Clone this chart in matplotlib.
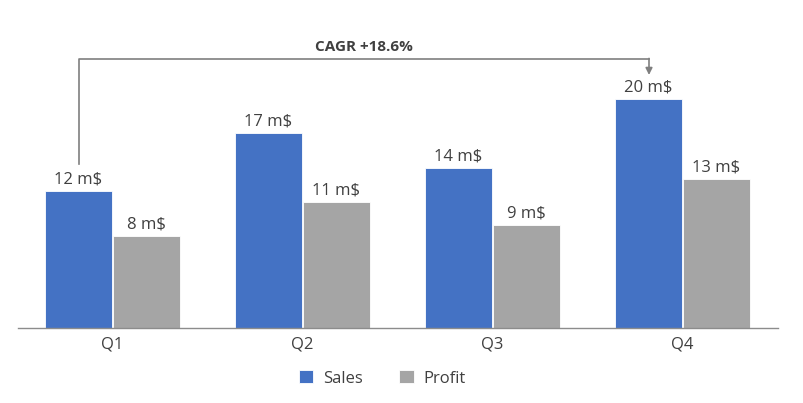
import matplotlib
matplotlib.use("Agg")
import matplotlib.pyplot as plt
import numpy as np

categories = ["Q1", "Q2", "Q3", "Q4"]
sales = [12, 17, 14, 20]
profit = [8, 11, 9, 13]
cagr_label = "CAGR +18.6%"

plt.rcParams['font.family'] = ['Open Sans', 'DejaVu Sans']

W, H = 804, 403
fig = plt.figure(figsize=(W/100, H/100), dpi=100)
ax_left, ax_right = 17.5, 777.5
ax_bottom_px = H - 328
ymax = 25
px_per_unit = 11.45
ax_h = ymax * px_per_unit
ax = fig.add_axes([ax_left/W, ax_bottom_px/H, (ax_right-ax_left)/W, ax_h/H])

x = np.arange(len(categories))
bw = 67/190
blue = '#4472C4'
gray = '#A5A5A5'
txt = '#404040'

b1 = ax.bar(x - bw/2 - 0.0025, sales, bw, color=blue, label='Sales', edgecolor='white', linewidth=0.6)
b2 = ax.bar(x + bw/2 + 0.0025, profit, bw, color=gray, label='Profit', edgecolor='white', linewidth=0.6)

for rect, v in zip(b1, sales):
    ax.annotate(f"{v} m$", (rect.get_x() + rect.get_width()/2, v), xytext=(0, 2.5),
                textcoords='offset points', ha='center', va='bottom', fontsize=12, color=txt)
for rect, v in zip(b2, profit):
    ax.annotate(f"{v} m$", (rect.get_x() + rect.get_width()/2, v), xytext=(0, 2.5),
                textcoords='offset points', ha='center', va='bottom', fontsize=12, color=txt)

ax.set_xlim(-0.5, len(categories) - 0.5)
ax.set_ylim(0, ymax)
ax.set_xticks(x)
ax.set_xticklabels(categories, fontsize=12, color=txt)
ax.tick_params(axis='x', length=0, pad=6)
ax.set_yticks([])
for s in ['top', 'right', 'left']:
    ax.spines[s].set_visible(False)
ax.spines['bottom'].set_color('#8c8c8c')
ax.spines['bottom'].set_linewidth(1)

# CAGR bracket
x0 = x[0] - bw/2
x1 = x[-1] - bw/2
ytop = (328 - 59) / px_per_unit
ystart = sales[0] + 2.35
yend = sales[-1] + 2.1
lc = '#7f7f7f'
ax.plot([x0, x0, x1], [ystart, ytop, ytop], color=lc, lw=1.2, clip_on=False)
ax.annotate('', xy=(x1, yend), xytext=(x1, ytop + 0.05),
            arrowprops=dict(arrowstyle='-|>', color=lc, lw=1.2, mutation_scale=10, shrinkA=0, shrinkB=0),
            annotation_clip=False)
ax.text((x0 + x1)/2, ytop + 0.45, cagr_label, ha='center', va='bottom', fontsize=11,
        fontweight='bold', color=txt)

leg = ax.legend(loc='upper center', bbox_to_anchor=(0.48, -0.095), ncol=2, frameon=False,
                fontsize=12, handlelength=0.85, handleheight=0.85, columnspacing=2.2,
                handletextpad=0.6)
for t in leg.get_texts():
    t.set_color(txt)

fig.savefig("out.png", dpi=100)
